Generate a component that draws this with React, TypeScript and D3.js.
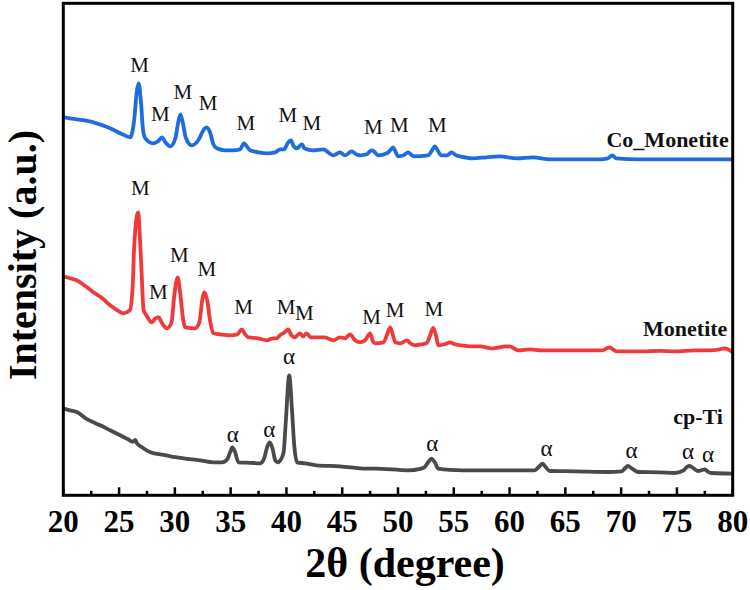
import * as d3 from 'd3'

type Pt = [number, number]

// XRD patterns, [2θ (deg), intensity (a.u., stacked offset)]
const coMonetite: Pt[] = [
  [20.0, 378], [21.2, 376], [22.7, 373], [24.2, 367], [25.3, 361], [26.0, 358],
  [26.35, 375], [26.6, 405], [26.75, 412], [26.95, 395], [27.15, 365], [27.35, 357],
  [28.05, 352], [28.5, 354], [28.85, 358], [29.15, 353], [29.6, 349], [30.05, 357],
  [30.3, 373], [30.5, 381], [30.7, 373], [31.0, 357], [31.5, 350], [32.1, 355],
  [32.55, 365], [32.85, 368], [33.15, 363], [33.45, 351], [33.75, 347], [34.5, 345],
  [35.2, 345], [35.85, 346], [36.2, 352], [36.5, 348], [36.75, 345], [37.5, 343],
  [38.25, 342], [39.0, 343], [39.45, 346], [39.8, 346], [40.1, 352], [40.4, 355],
  [40.65, 349], [40.95, 347], [41.25, 350], [41.4, 351], [41.6, 347], [42.4, 345],
  [43.3, 346], [44.2, 340], [44.8, 343], [45.25, 340], [45.85, 344], [46.25, 341],
  [46.6, 340], [47.2, 341], [47.6, 345], [47.85, 344], [48.2, 340], [49.0, 342],
  [49.3, 345], [49.55, 348], [49.8, 343], [50.0, 339], [50.5, 340], [50.9, 343],
  [51.25, 340], [51.5, 339], [52.7, 340], [53.05, 345], [53.3, 349], [53.6, 344],
  [53.85, 340], [54.4, 340], [54.8, 343], [55.2, 340], [55.55, 339], [56.7, 337],
  [57.95, 338], [59.1, 339], [60.65, 337], [62.1, 338], [63.6, 336], [65.85, 336],
  [68.1, 336], [68.8, 337], [69.2, 340], [69.55, 337], [71.7, 336], [73.9, 336],
  [76.15, 336], [77.95, 336], [80.0, 336],
]

const monetite: Pt[] = [
  [20.0, 219], [20.6, 217], [21.2, 215], [22.0, 209], [22.7, 203], [23.5, 197],
  [24.2, 190], [24.85, 185], [25.4, 182], [25.95, 185], [26.2, 205], [26.35, 248],
  [26.7, 283], [26.98, 232], [27.2, 185], [27.45, 180], [27.95, 173], [28.25, 177],
  [28.55, 178], [28.8, 173], [29.3, 167], [29.7, 173], [29.95, 200], [30.25, 218],
  [30.5, 200], [30.75, 175], [30.95, 168], [31.8, 167], [32.2, 173], [32.45, 195],
  [32.65, 203], [32.9, 195], [33.15, 175], [33.45, 162], [34.05, 161], [34.95, 160],
  [35.6, 161], [36.0, 166], [36.3, 161], [36.6, 158], [37.45, 157], [38.25, 155],
  [38.8, 157], [39.15, 157], [39.4, 160], [39.85, 163], [40.15, 166], [40.4, 161],
  [40.75, 158], [41.2, 162], [41.5, 159], [41.8, 162], [42.2, 158], [42.7, 158],
  [43.45, 158], [44.2, 155], [44.8, 158], [45.25, 157], [45.7, 161], [46.15, 155],
  [46.6, 153], [47.05, 155], [47.5, 162], [47.75, 154], [47.95, 152], [48.7, 153],
  [49.0, 160], [49.3, 168], [49.55, 160], [49.75, 153], [50.2, 152], [50.8, 155],
  [51.1, 152], [51.5, 150], [52.15, 151], [52.55, 152], [52.85, 159], [53.15, 167.5],
  [53.4, 160], [53.6, 150], [54.2, 151], [54.65, 153], [55.1, 151], [55.7, 150],
  [56.45, 149], [57.35, 149], [58.4, 147], [59.15, 148], [59.6, 149], [60.0, 149],
  [60.8, 145], [61.8, 146], [62.85, 145], [64.5, 145], [65.85, 145], [67.35, 145],
  [68.35, 145], [68.7, 147], [69.0, 148], [69.25, 146], [69.6, 144], [71.8, 144],
  [73.45, 144.5], [74.8, 144], [76.75, 145], [77.95, 145], [78.85, 146], [79.3, 147],
  [80.0, 143],
]

const cpTi: Pt[] = [
  [20.0, 87], [20.6, 85], [21.25, 83], [22.0, 77], [22.7, 73], [23.3, 70],
  [24.2, 65], [25.1, 60], [25.8, 56], [26.25, 53.5], [26.45, 55.5], [26.6, 52],
  [27.05, 48], [27.8, 43], [28.7, 41], [29.6, 39], [30.8, 37], [32.25, 35],
  [33.45, 33], [34.25, 33], [34.7, 36], [34.95, 43], [35.15, 48], [35.4, 43],
  [35.7, 33], [36.75, 32.5], [37.65, 32], [38.0, 37], [38.3, 49], [38.5, 53],
  [38.75, 47], [39.0, 35], [39.2, 33], [39.45, 35], [39.75, 43], [39.95, 75],
  [40.25, 120], [40.5, 85], [40.7, 50], [40.95, 33], [41.65, 32], [42.7, 30],
  [44.8, 29], [47.2, 26.7], [47.95, 26.7], [50.9, 25], [52.0, 26.5], [52.4, 28.3],
  [52.7, 33], [53.0, 36.7], [53.3, 33], [53.6, 26.7], [54.65, 25.5], [56.9, 25],
  [59.15, 25], [60.9, 25], [62.25, 25], [62.6, 28], [62.95, 31.7], [63.25, 28],
  [63.6, 24.3], [65.85, 24], [68.85, 23.3], [70.05, 24], [70.35, 27], [70.6, 29.3],
  [70.95, 27], [71.5, 23.3], [73.45, 23], [74.8, 22.3], [75.6, 25], [75.9, 28.5],
  [76.15, 29.3], [76.5, 27], [76.9, 24.3], [77.2, 25], [77.5, 26], [77.8, 23.5],
  [78.1, 22.3], [80.0, 21.7],
]

// phase markers: [2θ, text baseline in a.u.]
const coMonetiteMarks: Pt[] = [
  [26.83, 423], [28.69, 374], [30.72, 396], [32.98, 385], [36.36, 365],
  [40.12, 373], [42.27, 365], [47.79, 361], [50.12, 363], [53.52, 363],
]
const monetiteMarks: Pt[] = [
  [26.9, 300], [28.53, 196], [30.41, 233], [32.87, 219], [36.15, 181],
  [39.97, 181], [41.6, 175], [47.64, 171], [49.73, 178], [53.22, 179],
]
const alphaTiMarks: Pt[] = [
  [35.2, 53], [38.47, 58], [40.24, 131.5], [53.07, 44], [63.32, 39],
  [70.93, 37], [76.0, 36.5], [77.79, 33],
]

const majorTicks = [20, 25, 30, 35, 40, 45, 50, 55, 60, 65, 70, 75, 80]
const minorTicks = [22.5, 27.5, 32.5, 37.5, 42.5, 47.5, 52.5, 57.5, 62.5, 67.5, 72.5, 77.5]

const W = 750
const H = 590
const left = 63.3
const right = 732.7
const top = 3.3
const bottom = 495.3
const serif = '"Liberation Serif", "Times New Roman", Times, serif'

export default function App() {
  const x = d3.scaleLinear().domain([20, 80]).range([left, right])
  const y = d3.scaleLinear().domain([0, 492]).range([bottom, top])
  const line = d3.line<Pt>().x(d => x(d[0])).y(d => y(d[1])).curve(d3.curveMonotoneX)

  const series = [
    { data: cpTi, color: '#4a4a4a', name: 'cp-Ti', at: [79.13, 71.7] as Pt },
    { data: monetite, color: '#f03a3a', name: 'Monetite', at: [79.52, 159] as Pt },
    { data: coMonetite, color: '#1f6be0', name: 'Co_Monetite', at: [79.64, 348] as Pt },
  ]

  return (
    <div style={{ position: 'absolute', left: 0, top: 0 }}>
      <svg width={W} height={H} style={{ display: 'block', background: '#fff' }} fontFamily={serif}>
        <defs>
          <clipPath id="plot">
            <rect x={left} y={top} width={right - left} height={bottom - top} />
          </clipPath>
        </defs>

        <g clipPath="url(#plot)">
          {series.map(s => (
            <path key={s.name} d={line(s.data) ?? ''} fill="none" stroke={s.color}
              strokeWidth={3.8} strokeLinejoin="round" strokeLinecap="round" />
          ))}
        </g>

        {/* peak markers */}
        {[...coMonetiteMarks, ...monetiteMarks].map((d, i) => (
          <text key={'m' + i} x={x(d[0])} y={y(d[1])} textAnchor="middle" fontSize={21} fill="#111">M</text>
        ))}
        {alphaTiMarks.map((d, i) => (
          <text key={'a' + i} x={x(d[0])} y={y(d[1])} textAnchor="middle" fontSize={23} fill="#111">α</text>
        ))}

        {series.map(s => (
          <text key={'n' + s.name} x={x(s.at[0])} y={y(s.at[1])} textAnchor="end"
            fontSize={22} fontWeight="bold" fill="#111">{s.name}</text>
        ))}

        {/* ticks point inward */}
        {majorTicks.map(t => (
          <line key={'M' + t} x1={x(t)} x2={x(t)} y1={bottom} y2={bottom - 8} stroke="#000" strokeWidth={2.5} />
        ))}
        {minorTicks.map(t => (
          <line key={'m' + t} x1={x(t)} x2={x(t)} y1={bottom} y2={bottom - 4.5} stroke="#000" strokeWidth={2.5} />
        ))}

        <rect x={left} y={top} width={right - left} height={bottom - top} fill="none" stroke="#000" strokeWidth={3} />

        {majorTicks.map(t => (
          <text key={'l' + t} x={x(t)} y={532} textAnchor="middle" fontSize={31} fontWeight="bold" fill="#000">{t}</text>
        ))}

        <text x={405} y={577} textAnchor="middle" fontSize={42} fontWeight="bold" fill="#000">2θ (degree)</text>
        <text transform="translate(36,255) rotate(-90)" textAnchor="middle" fontSize={40} fontWeight="bold" fill="#000">
          Intensity (a.u.)
        </text>
      </svg>
    </div>
  )
}
